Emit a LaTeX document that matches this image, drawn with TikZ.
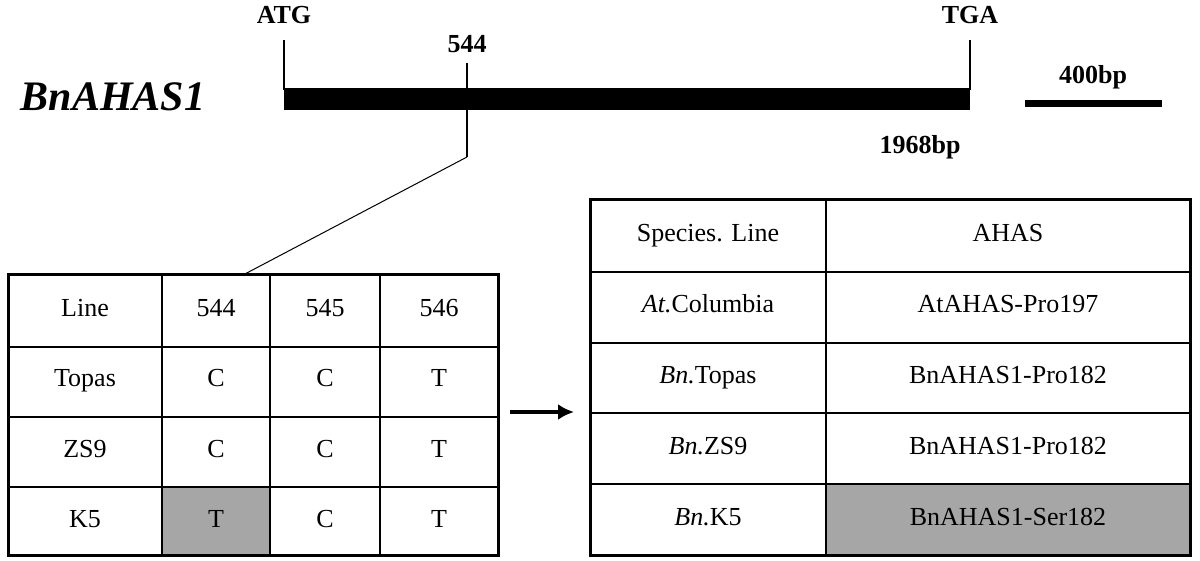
\documentclass[tikz,border=0pt]{standalone}
\usepackage{fontspec}
\setmainfont{Liberation Serif}
\usetikzlibrary{arrows.meta}
\begin{document}
\begin{tikzpicture}[x=1pt,y=-1pt,
  txt/.style={font=\fontsize{26}{30}\selectfont,text height=18pt,text depth=6pt},
  btxt/.style={font=\fontsize{26}{30}\selectfont\bfseries,text height=18pt,text depth=6pt},
  grid/.style={line width=2pt},
  outer/.style={line width=3pt}]
\useasboundingbox (0,0) rectangle (1200,561);
% gene
\fill (284,88) rectangle (970,110);
\coordinate (atgt) at (284,40); \coordinate (atgb) at (284,90);
\coordinate (tgat) at (970,40); \coordinate (tgab) at (970,90);
\draw[line width=1.5pt] (atgt) -- (atgb);
\draw[line width=1.5pt] (tgat) -- (tgab);
\node[btxt] (atg) at (284,18) {ATG};
\node[btxt] (tga) at (970,18) {TGA};
\node[btxt] (p544) at (467,47) {544};
\coordinate (m1) at (467,63); \coordinate (m2) at (467,157); \coordinate (m3) at (243,275);
\draw[line width=1.5pt] (m1) -- (m2);
\draw[line width=1pt] (m2) -- (m3);
\node[font=\fontsize{42}{46}\selectfont\bfseries\itshape] (gene) at (113,97) {BnAHAS1};
\node[btxt] (len) at (920,148) {1968bp};
\fill (1025,100) rectangle (1162,107);
\node[btxt] (scale) at (1093,78) {400bp};
% left table
\fill[gray!70] (162,487) rectangle (270,555);
\foreach \y in {347,417,487} \draw[grid] (8,\y) -- (498,\y);
\foreach \x in {162,270,380} \draw[grid] (\x,275) -- (\x,555);
\draw[outer] (8,275) rectangle (498,555);
\foreach \t [count=\i] in {Line,Topas,ZS9,K5} \node[txt] at (85,311+70*\i-70) {\t};
\foreach \t [count=\i] in {544,C,C,T} \node[txt] at (216,311+70*\i-70) {\t};
\foreach \t [count=\i] in {545,C,C,C} \node[txt] at (325,311+70*\i-70) {\t};
\foreach \t [count=\i] in {546,T,T,T} \node[txt] at (439,311+70*\i-70) {\t};
% arrow
\coordinate (a1) at (510,412); \coordinate (a2) at (574,412);
\draw[line width=3.5pt,-{Latex[length=16pt,width=16pt]}] (a1) -- (a2);
% right table
\fill[gray!70] (826,484) rectangle (1190,555);
\foreach \y in {272,343,413,484} \draw[grid] (590,\y) -- (1190,\y);
\draw[grid] (826,200) -- (826,555);
\draw[outer] (590,200) rectangle (1190,555);
\node[txt] at (708,236) {Species. Line};
\node[txt] at (708,307) {\textit{At.}Columbia};
\node[txt] at (708,378) {\textit{Bn.}Topas};
\node[txt] at (708,448) {\textit{Bn.}ZS9};
\node[txt] at (708,519) {\textit{Bn.}K5};
\node[txt] at (1008,236) {AHAS};
\node[txt] at (1008,307) {AtAHAS-Pro197};
\node[txt] at (1008,378) {BnAHAS1-Pro182};
\node[txt] at (1008,448) {BnAHAS1-Pro182};
\node[txt] at (1008,519) {BnAHAS1-Ser182};
\end{tikzpicture}
\end{document}
